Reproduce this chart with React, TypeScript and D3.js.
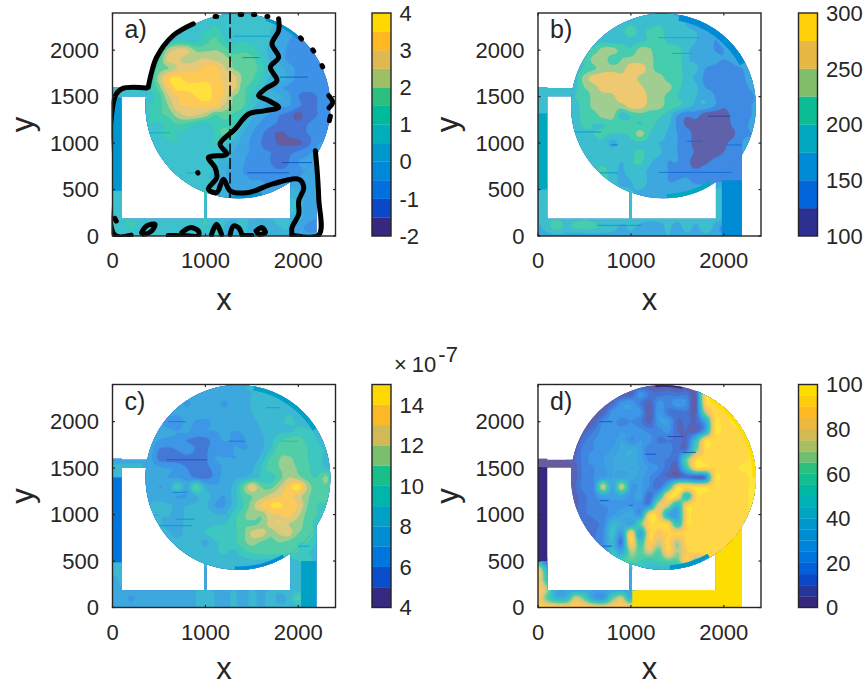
import React, { useMemo } from "react";
import * as d3 from "d3";

// ---------- data: field values (rows from y=2400 down to y=0, step 100) ----------
const gridA = [
[.6,.6,.6,.6,.6,.6,.6,.6,.7,.7,.7,.7,.7,.6,.6,.6,.6,.6,-.2,-.3,-.3,-.3,-.3,-.3,-.3],
[.6,.6,.6,.6,.6,.6,.6,.7,.7,.8,.8,.9,.8,.7,.8,.7,.7,.7,0,-.4,-.5,-.5,-.6,-.6,-.6],
[.6,.6,.6,.6,.6,.6,.7,.8,.9,.9,1.0,1.2,.9,.8,.9,.7,.7,.5,0,-.4,-.5,-.6,-.5,-.4,-.4],
[.6,.6,.6,.6,.6,.7,.9,1.1,1.0,.9,1.3,1.7,1.1,.9,1.0,.8,.7,.5,-.1,-.5,-.6,-.7,-.7,-.6,-.5],
[.6,.6,.6,.6,.6,1.0,2.2,2.7,2.6,1.9,1.9,2.0,1.8,1.2,1.4,1.2,.8,.3,-.2,-.6,-.7,-.7,-.6,-.6,-.5],
[.6,.6,.6,.6,.8,1.4,2.7,2.6,2.3,2.4,2.6,2.4,2.2,1.9,1.8,1.7,1.0,.4,-.2,-.6,-.6,-.7,-.6,-.6,-.5],
[.6,.6,.6,.7,1.0,1.7,2.0,2.6,2.9,2.9,3.2,3.3,2.6,2.0,1.8,1.7,1.3,.6,.3,-.3,-.6,-.7,-.8,-.7,-.6],
[.6,.6,.6,.7,1.0,2.2,3.4,3.6,3.3,3.2,3.3,3.2,2.9,2.8,1.9,1.6,1.0,.4,.4,-.2,-.7,-.8,-.8,-.7,-.6],
[.6,.6,.6,.7,1.0,1.8,3.0,3.7,3.6,3.7,3.8,3.3,3.0,2.8,1.7,1.3,.7,.1,-.4,-.6,-.8,-.8,-.8,-.6,-.6],
[.7,.7,.7,.8,.9,1.3,2.4,3.0,3.2,3.5,3.8,3.3,2.9,2.0,1.7,1.0,.5,.3,.1,-.4,-1.0,-1.2,-1.0,-.6,-.5],
[.7,.7,.7,.8,1.0,1.3,2.0,2.9,3.0,3.1,3.1,3.1,2.4,1.9,1.6,.7,.2,-.3,-.4,-.5,-.9,-1.2,-1.0,-.8,-.6],
[.7,.7,.7,.8,1.0,1.4,1.6,2.2,2.6,2.5,2.2,1.5,1.7,1.4,1.0,.2,-.3,-.6,-1.0,-1.2,-1.7,-1.2,-1.0,-.9,-.6],
[.7,.7,.7,.8,1.0,.9,1.2,1.5,1.3,1.0,.7,1.3,1.4,1.3,.6,-.2,-.6,-.9,-1.1,-1.2,-1.3,-1.0,-.9,-.7,-.5],
[.6,.6,.6,.7,.8,.9,1.2,1.0,.9,.9,.9,1.0,1.7,1.0,0,-.5,-.9,-1.3,-1.6,-1.4,-1.2,-1.0,-.9,-.7,-.5],
[.6,.6,.6,.6,.7,.8,.9,1.0,.8,.7,.9,1.0,.7,.3,-.2,-.6,-1.0,-1.2,-1.6,-1.6,-1.6,-1.2,-.6,-.4,-.4],
[.6,.6,.6,.6,.7,.8,.8,.7,.6,.8,.9,.6,.6,0,-.3,-.6,-.9,-1.0,-1.1,-1.1,-.9,-.6,-.4,-.3,-.3],
[.6,.6,.6,.6,.7,.7,.8,.7,.8,.8,.7,.7,.2,-.1,-.4,-.8,-.8,-1.0,-1.4,-1.0,-.5,-.4,-.3,-.3,-.3],
[.7,.7,.7,.7,.7,.7,.7,.7,.8,.8,.7,.4,.1,-.3,-.5,-.6,-.7,-.8,-.9,-.8,-.6,-.4,-.3,-.3,-.3],
[.8,.8,.8,.8,.8,.8,.8,.8,.8,.7,.6,.4,.1,-.3,-.4,-.5,-.5,-.6,-.5,-.5,-.4,-.3,-.3,-.3,-.3],
[.9,.8,.8,.8,.8,.8,.8,.8,.8,.8,1.0,.6,.1,-.2,-.3,-.3,-.4,-.3,0,.2,0,-.2,-.3,-.3,-.3],
[.9,1,.8,.8,.8,.8,.8,.8,.8,.8,1.0,.6,.3,0,0,0,.1,.2,.3,.5,.4,-.3,-.4,-.4,-.4],
[.8,.8,.8,.8,.8,.8,.8,.8,.8,.8,1.0,.8,.6,.4,.4,.4,.5,.5,.5,.6,.4,-.3,-.5,-.5,-.5],
[.7,1.0,.9,.9,.9,.8,.8,.8,.8,.8,1.0,.7,.6,.5,.5,.5,.5,.5,.6,.5,.3,-.3,-.5,-.5,-.5],
[.6,.8,1.1,.8,.6,.6,.9,.6,.5,.7,1.0,.6,.5,.4,.6,.4,.5,.4,.5,.5,-.2,-.6,-.6,-.5,-.5],
[.4,.5,.5,.5,.5,.5,.5,.5,.5,.5,.5,.5,.5,.5,.5,.5,.5,.4,.4,.3,-.3,-.4,-.4,-.4,-.4],
];
const gridB = [
[185,185,185,185,185,185,185,185,185,185,190,190,190,185,185,165,155,155,155,155,155,155,155,155,155],
[185,185,185,185,185,185,185,185,190,190,195,190,190,195,195,190,170,160,155,155,155,155,155,155,155],
[185,185,185,185,185,185,185,190,190,195,210,195,205,210,190,190,180,175,160,155,155,155,155,155,155],
[185,185,185,185,185,185,190,195,190,195,195,195,205,215,195,190,180,175,165,150,155,160,155,150,150],
[185,185,185,185,185,190,210,235,235,215,205,235,230,205,215,210,180,170,160,150,150,165,160,155,155],
[185,185,185,185,190,200,235,240,210,225,235,240,235,210,215,215,180,170,165,155,150,155,165,160,160],
[185,185,185,185,190,205,220,240,240,240,265,262,240,210,215,215,185,180,150,145,140,145,150,165,165],
[185,185,185,185,190,235,262,265,265,258,262,245,240,240,215,215,185,170,145,145,140,140,145,165,165],
[190,190,190,190,195,225,240,262,262,262,265,255,240,240,235,205,195,180,150,145,140,140,140,155,165],
[190,190,190,190,200,205,235,240,245,265,262,265,245,240,215,200,190,175,170,150,140,140,140,145,165],
[190,190,190,190,195,210,232,240,240,240,262,262,240,235,215,205,185,170,170,150,130,140,140,150,165],
[185,185,190,190,190,210,215,235,235,190,205,215,210,205,190,150,130,135,110,105,108,135,140,150,165],
[185,185,185,185,190,205,200,200,210,215,205,200,205,195,180,145,120,115,112,108,105,130,140,155,160],
[185,185,185,185,190,195,200,205,200,200,205,235,200,190,170,150,140,112,110,110,105,120,145,150,160],
[180,180,180,185,190,195,195,195,165,190,195,195,190,175,170,150,135,115,108,112,118,135,150,155,160],
[180,180,180,185,190,190,190,190,195,190,195,205,190,180,160,150,140,120,105,115,125,140,150,150,150],
[180,180,180,180,185,190,195,195,195,175,195,205,180,165,150,150,135,110,120,130,135,140,150,150,150],
[180,180,180,185,185,190,195,205,190,170,195,185,170,160,150,140,135,130,135,130,130,140,150,150,150],
[180,180,180,180,185,185,195,205,190,165,175,190,170,170,150,150,155,140,135,140,145,140,145,150,150],
[185,185,175,180,180,180,185,190,185,180,175,175,170,165,160,160,165,165,170,175,185,150,140,140,140],
[190,190,185,185,185,185,185,185,185,185,180,175,170,170,175,175,175,175,175,185,190,165,140,140,140],
[195,195,190,190,190,190,190,190,190,190,185,180,180,180,180,180,180,180,180,185,185,150,140,140,140],
[190,195,195,190,190,195,190,190,190,190,185,185,185,185,185,185,185,185,185,185,185,150,140,140,140],
[170,190,215,195,205,210,205,195,190,170,180,170,160,165,180,165,185,170,190,170,140,145,140,140,140],
[165,165,170,165,160,160,165,165,165,165,170,160,170,165,175,160,170,165,170,165,150,140,140,140,140],
];
const gridC = [
[8.2,8.2,8.2,8.2,8.2,8,8,8,8,8,8,8,8,8,8,8.2,8.5,8.5,8.5,8.5,8.5,8.5,8.5,8.5,8.5],
[8,8,8,8,8,8,8,7.8,7.9,7.8,7.8,7.8,7.8,7.8,7.8,8.0,8.1,8.3,8.4,8.5,8.5,8.5,8.5,8.5,8.5],
[8,8,8,8,8,8,7.9,7.8,6.8,7.6,7.7,7.6,6.8,7.5,7.6,8.1,8.2,8.7,8.5,8.5,8.4,8.4,8.5,8.5,8.5],
[8,8,8,8,8,7.8,7.7,7.3,7.5,7.8,7.6,7.5,7.4,7.7,7.6,8.0,8.3,8.6,8.5,8.9,8.5,8.4,8.4,8.5,8.5],
[8,8,8,8,7.9,7.6,6.5,6.4,7.3,6.9,6.8,7.2,7.1,7.1,7.4,7.8,8.2,8.8,8.8,9.2,8.8,8.4,8.4,8.5,8.5],
[8,8,8,8,7.8,7.4,7.2,7.0,7.2,6.5,6.9,7.0,7.1,7.0,7.1,7.6,8.0,8.4,8.8,8.8,9.3,9.2,8.8,8.5,8.5],
[8,8,8,8,7.7,7.0,6.8,6.7,6.0,5.8,5.7,6.5,7.1,6.9,6.9,7.3,7.8,8.6,9.8,10.4,10.5,9.6,9.0,8.6,8.5],
[8,8,8,8,7.6,6.0,5.8,6.1,6.6,5.9,5.8,6.6,6.0,7.0,7.0,7.1,7.8,9.0,10.6,10.4,10.8,10.0,9.4,8.8,8.5],
[7.8,7.8,7.8,7.8,7.4,5.8,5.5,5.5,5.5,5.5,5.8,7.0,7.2,7.0,7.1,7.4,8.4,10.2,11.0,11.2,10.5,10,9.4,8.8,8.6],
[8.2,8.2,8.2,8.2,7.6,7.2,7.0,6.8,6.0,5.6,5.8,6.3,7.2,7.3,7.2,7.8,9.2,10.6,11.0,11.6,10.8,10.2,9.5,9,8.6],
[8.2,8.2,8.2,8.0,7.6,7.4,7.0,6.9,6.6,5.8,5.7,6.3,7.4,7.7,8.0,8.6,9.2,9.4,10.6,12.0,11.4,10.4,10,11.2,8.8],
[8,8,8,8,7.6,7,7.4,9.5,7.6,10.5,8,7.2,7.6,8.2,10.5,12.8,11,10.6,12,13.5,14.4,11.8,10.2,10.8,9],
[8,8,8,8,7.8,7.4,7.2,7,7,8,8.4,7.6,7.0,8.4,10.2,11.0,11.5,12.4,13,13.4,12.5,11.2,10.4,10.8,9.2],
[8,8,8,8,8.0,8.4,8.2,7.8,8.0,8.2,8.2,7.0,6.9,8.4,9.8,11.5,13.2,14.0,14.2,13.2,13.0,11.0,10,9.6,9],
[8,8,8,8,8,8,8.1,7.6,8.2,8.6,8.8,8.2,8.0,9.4,10.6,11.6,11.2,12.8,13,13.4,12.2,10.6,10,9.4,8.8],
[8,8,8,8,8,8.2,7.5,7.4,8.4,8.8,8.6,8.8,9.0,9.6,10.8,10.8,11.2,12.4,13,12,11.4,10.5,9.6,8.8,8.6],
[8,8,8,8,8,8.2,8.2,7.5,8.6,8.8,9.0,9.8,9.8,9.8,10.6,12.2,12.5,11.4,12.2,12.4,11,10.8,9.6,8.8,8.6],
[8,8,8,8,8,8.2,8.3,8.5,8.6,8.6,7.7,8.8,9.4,9.6,10.6,11.4,10.8,10.6,11.0,10.6,10.0,10,9,8.6,8.6],
[8,8,8,8,8,8,8.2,8.4,8.6,8.8,8.6,8.8,9.2,8.8,9.6,10.2,10.4,10.4,10.4,10.2,10,9.2,8.6,8.6,8.6],
[8,8,8,8,8,8.2,8.2,8.2,8.4,8.4,8.5,8.6,8.5,8.4,8.6,8.8,8.8,8.6,8.6,8.6,9,9.4,8.5,8.5,8.5],
[8.6,8.2,8,8,8,8,8,8,8,8,7.8,8.3,8.2,8.2,8.2,8.2,8.2,8.2,8.2,8.4,8.6,8.8,8.5,8.5,8.5],
[7.4,8.4,8,8,8,8,8,8,8,8,7.8,8.2,8.2,8.2,8.2,8.2,8.2,8.2,8.2,8.4,8.6,8.2,8.5,8.5,8.5],
[7.4,7.8,8,8,8,8,8,8,8,8,8,8,8,8,8,8,8,8,8.2,8.4,8.4,8.2,8.5,8.5,8.5],
[7.8,7.5,6.8,7.5,7.6,7.7,7.0,7.6,7.8,8,8.2,8.0,7.5,8.2,7.6,8.2,7.8,8.3,7.8,8.3,10.2,8.6,8.5,8.5,8.5],
[7.8,7.6,7.8,7.7,7.8,7.7,7.8,7.8,7.9,8,8,8,8,8,8,8,8,8,8.1,8.2,8.5,8.5,8.5,8.5,8.5],
];
const gridD = [
[5,5,5,5,5,5,5,5,5,5,5,5,3,3,2,2,2,4,92,96,97,97,97,97,97],
[5,5,5,5,5,5,5,5,5,5,8,22,14,12,14,12,14,8,92,93,96,97,97,97,97],
[5,5,5,5,5,5,5,5,10,22,24,15,8,22,18,24,20,6,88,93,96,97,97,97,97],
[5,5,5,5,5,5,5,8,22,24,24,22,5,25,14,12,14,8,70,92,93,96,97,97,97],
[5,5,5,5,5,5,8,20,22,18,20,16,8,24,25,10,12,10,30,91,93,96,97,97,97],
[5,5,5,5,5,8,15,22,20,24,24,22,18,18,22,10,10,8,30,92,93,93,96,97,97],
[5,5,5,5,5,14,20,22,22,30,20,25,22,14,15,14,11,45,92,92,92,92,93,96,97],
[5,5,5,5,8,18,20,22,26,32,35,28,16,18,18,12,15,60,92,91,92,92,93,96,97],
[5,5,5,5,10,18,22,25,30,34,34,28,18,16,15,14,60,91,91,91,92,93,93,96,97],
[3,3,3,3,8,18,20,24,30,32,30,30,24,20,12,10,50,91,91,92,92,93,96,96,97],
[2,2,2,2,8,18,20,26,30,30,32,28,20,14,10,10,12,8,15,91,92,93,93,96,97],
[2,2,2,2,10,18,20,75,30,75,26,26,20,12,40,91,92,92,92,92,93,93,93,96,97],
[2,2,2,2,8,14,18,30,28,32,24,28,12,40,91,91,45,91,92,92,93,93,93,96,97],
[2,2,2,2,8,14,18,20,22,24,24,22,22,80,75,40,90,92,92,92,93,93,93,96,97],
[2,2,2,2,8,14,16,18,24,30,35,24,90,85,35,30,90,92,92,92,92,92,93,96,97],
[2,2,2,2,8,10,14,18,40,35,30,60,92,92,90,45,92,92,92,92,92,93,93,96,97],
[2,2,2,2,2,8,14,20,45,25,88,30,90,85,90,90,91,92,91,92,93,93,96,97,97],
[2,2,2,2,2,10,14,20,40,15,90,50,90,75,91,70,92,91,91,92,93,96,97,97,97],
[2,2,2,2,2,2,10,20,45,30,70,60,75,60,90,70,88,91,91,93,96,97,97,97,97],
[40,10,10,10,10,10,10,30,45,55,60,55,50,55,60,60,88,60,88,97,97,97,97,97,97],
[88,40,30,30,30,30,30,30,30,30,35,48,45,45,45,40,38,40,60,98,100,100,100,100,100],
[88,50,30,30,30,30,30,30,30,30,35,60,85,95,100,100,100,100,100,100,100,100,100,100,100],
[88,70,30,30,30,30,30,30,30,30,35,98,100,100,100,100,100,100,100,100,100,100,100,100,100],
[90,60,40,40,75,60,30,25,60,75,40,100,100,100,100,100,100,100,100,100,100,100,100,100,100],
[92,92,90,90,90,90,88,85,88,90,90,100,100,100,100,100,100,100,100,100,100,100,100,100,100],
];

const levelsA = d3.range(-2, 4.01, 0.5);
const levelsB = d3.range(100, 300.1, 25);
const levelsC = d3.range(4, 15.01, 1);
const levelsD = d3.range(0, 100.1, 5);

const ticksA = [-2, -1, 0, 1, 2, 3, 4];
const ticksB = [100, 150, 200, 250, 300];
const ticksC = [4, 6, 8, 10, 12, 14];
const ticksD = [0, 20, 40, 60, 80, 100];
const axisXTicks = [0, 1000, 2000];
const axisYTicks = [0, 500, 1000, 1500, 2000];

const paletteStops = ["#37287f", "#0a48c8", "#0070e0", "#0088d8", "#0098cc", "#00aebc", "#00bb9b", "#2cc080", "#9dbf66", "#e0b850", "#ffb820", "#ffd800", "#fce600"];

// domain: disc + channels, in data units
const disc = { cx: 1350, cy: 1400, r: 995 };
const channels = [
  [0, 0, 100, 1600],
  [0, 1505, 450, 1590],
  [0, 0, 2195, 185],
  [1915, 0, 2195, 890],
  [985, 180, 1012, 520],
];

// patches drawn without the pale wash: [x0,y0,x1,y1,value]
const solidRectsA = [[0, 485, 100, 1490, 0.4]];
const solidRectsB = [[0, 500, 100, 1320, 180], [1978, 0, 2195, 600, 155]];
const solidRectsC = [[0, 485, 100, 1400, 6.9], [2030, 0, 2195, 500, 8.5]];
const solidRectsD = [[0, 500, 100, 1510, 2], [1915, 0, 2195, 900, 100], [1015, 0, 1915, 185, 100]];
// rim arcs: [deg0, deg1, inner radius, value]
const solidArcsA = [[18, 42, 965, 0], [165, 186, 960, 0]];
const solidArcsB = [[10, 62, 930, 155], [149, 178, 950, 180]];
const solidArcsC = [[10, 58, 950, 8.5], [150, 182, 960, 7.4]];
const solidArcsD = [[-5, 12, 975, 2], [150, 176, 950, 38], [30, 90, 960, 100]];

// thin streaks: [x0,x1,y,value]
const streaksA = [[1300, 1700, 2150, 0.2], [1400, 1580, 1920, -0.6], [1800, 2100, 1710, -1.1], [1820, 2150, 790, -1.4], [1450, 1900, 680, -1.3], [400, 620, 1110, 0.8], [800, 900, 680, 0.9]];
const streaksB = [[1295, 1730, 2135, 175], [1440, 1660, 1965, 175], [1830, 2070, 1290, 100], [1600, 1770, 1020, 135], [2030, 2195, 980, 135], [1300, 2090, 685, 130], [400, 680, 1120, 165], [630, 860, 680, 170], [630, 1120, 115, 165], [790, 860, 980, 140]];
const streaksC = [[600, 790, 2000, 6], [1250, 1420, 1790, 6.2], [580, 1020, 1590, 5.5], [650, 800, 1240, 6], [1820, 2000, 1790, 10], [1650, 1800, 2150, 8], [680, 880, 950, 7], [500, 850, 880, 7], [2000, 2130, 660, 8]];
const streaksD = [[660, 800, 2000, 12], [1400, 1560, 1840, 8], [1150, 1270, 1650, 12], [1560, 1700, 1670, 3], [660, 760, 1150, 12], [690, 800, 660, 10], [980, 1020, 1100, 15]];

// black contour of panel a, data units
const blackLines = [
  [[1788,2338],[1788,2212],[1716,2068],[1788,1924],[1698,1817],[1770,1673],[1644,1583],[1572,1511],[1680,1457],[1788,1385],[1644,1349],[1464,1313],[1320,1151],[1158,989],[1230,881],[1032,845],[1104,737],[1122,629],[1032,504],[1122,468],[1194,611],[1266,486],[1464,468],[1716,558],[2004,611],[2058,522],[2004,378],[2004,234],[1932,90],[1932,0]],
  [[2183,917],[2200,737],[2220,400],[2220,10],[1932,10]],
  [[870,2284],[655,2158],[475,1924],[421,1763],[385,1601]],
  [[367,1594],[97,1583],[25,1493],[25,10],[200,10]],
  [[313,36],[367,108],[457,126],[421,54],[331,18],[313,36]],
  [[745,36],[835,90],[925,54],[925,5],[745,10]],
  [[1065,15],[1120,126],[1174,15]],
  [[1266,15],[1302,108],[1356,90],[1392,15]],
  [[1545,54],[1610,90],[1645,36],[1575,18],[1545,54]],
  [[600,6],[700,6]],[[1400,6],[1500,6]],
  [[1104,2363],[1120,2363]],[[1374,2385],[1390,2385]],[[1518,2385],[1530,2385]],[[1662,2363],[1672,2363]],
  [[2022,2133],[2035,2120]],[[2155,2004],[2165,1990]],[[2255,1835],[2262,1820]],
  [[2327,1511],[2370,1440],[2330,1380]],[[2345,1290],[2334,1240],[2340,1270]],
  [[917,683],[920,678]],[[25,190],[40,160]],
];
const dashLine = [[1265, 2400], [1265, 410]];

const ink = "#262626";
const W = 223;
const H = 223;

const rampDomain = [...d3.range(12).map((i) => (i + 0.5) / 12), 1];
const ramp = d3.scaleLinear<string>().domain(rampDomain).range(paletteStops).interpolate(d3.interpolateRgb).clamp(true);

function upsample(grid: number[][], n: number): number[] {
  const rows = grid.length, cols = grid[0].length;
  const vMin = d3.min(grid.flat()) as number, vMax = d3.max(grid.flat()) as number;
  const cr = (a: number, b: number, c: number, d: number, t: number) =>
    0.5 * (2 * b + (c - a) * t + (2 * a - 5 * b + 4 * c - d) * t * t + (3 * b - a - 3 * c + d) * t * t * t);
  const out = new Array(n * n);
  const at = (r: number, c: number) => grid[Math.max(0, Math.min(rows - 1, r))][Math.max(0, Math.min(cols - 1, c))];
  for (let j = 0; j < n; j++) {
    const fy = (j / (n - 1)) * (rows - 1), r0 = Math.floor(fy), ty = fy - r0;
    for (let i = 0; i < n; i++) {
      const fx = (i / (n - 1)) * (cols - 1), c0 = Math.floor(fx), tx = fx - c0;
      const seg = [-1, 0, 1, 2].map((dr) => cr(at(r0 + dr, c0 - 1), at(r0 + dr, c0), at(r0 + dr, c0 + 1), at(r0 + dr, c0 + 2), tx));
      out[j * n + i] = Math.max(vMin, Math.min(vMax, cr(seg[0], seg[1], seg[2], seg[3], ty)));
    }
  }
  return out;
}

type PanelProps = {
  id: string; label: string; left: number; top: number; barLeft: number; xLabelGap: number;
  grid: number[][]; levels: number[]; ticks: number[];
  rects: number[][]; arcs: number[][]; streaks: number[][]; wash: number; black?: boolean; exponent?: boolean;
};

function Panel(p: PanelProps) {
  const x = d3.scaleLinear().domain([0, 2400]).range([p.left, p.left + W]);
  const y = d3.scaleLinear().domain([0, 2400]).range([p.top + H, p.top]);
  const lo = p.levels[0], hi = p.levels[p.levels.length - 1];
  const nLev = p.levels.length - 1;
  const levelIndex = (v: number) => Math.max(0, Math.min(nLev - 1, Math.floor((v - lo) / (hi - lo) * nLev)));
  const solid = (i: number) => ramp((i + 0.5) / nLev);
  const pale = (i: number) => d3.interpolateRgb(solid(i), "#ffffff")(p.wash);
  const N = 241;
  const paths = useMemo(() => {
    const vals = upsample(p.grid, N);
    const cs = d3.contours().size([N, N]).smooth(true).thresholds(p.levels.slice(0, -1))(vals);
    const proj = d3.geoTransform({
      point(px: number, py: number) {
        (this as any).stream.point(x(((px - 0.5) / (N - 1)) * 2400), y(2400 - ((py - 0.5) / (N - 1)) * 2400));
      },
    });
    const gp = d3.geoPath(proj);
    return cs.map((c, i) => ({ d: gp(c as any) || "", i }));
  }, []);
  const scaleK = W / 2400;
  const bar = d3.scaleLinear().domain([lo, hi]).range([p.top + H, p.top]);
  const line = d3.line().x((d) => x(d[0])).y((d) => y(d[1])).curve(d3.curveCatmullRom);
  const arcGen = d3.arc();
  const tickLen = 2.5;
  const washed = paths.map((c) => <path key={c.i} d={c.d} fill={pale(c.i)} stroke={pale(c.i)} strokeWidth={0.3} />);
  return (
    <g>
      <defs>
        <clipPath id={`dom-${p.id}`}>
          <circle cx={x(disc.cx)} cy={y(disc.cy)} r={disc.r * scaleK} />
          {channels.map((c, i) => (
            <rect key={i} x={x(c[0])} y={y(c[3])} width={x(c[2]) - x(c[0])} height={y(c[1]) - y(c[3])} />
          ))}
        </clipPath>
        <clipPath id={`disc-${p.id}`}>
          <circle cx={x(disc.cx)} cy={y(disc.cy)} r={disc.r * scaleK} />
        </clipPath>
        <clipPath id={`box-${p.id}`}>
          <rect x={p.left - 1} y={p.top - 1} width={W + 2} height={H + 2} />
        </clipPath>
      </defs>
      <g clipPath={`url(#dom-${p.id})`}>
        {washed}
        {p.rects.map((r, i) => (
          <rect key={i} x={x(r[0])} y={y(r[3])} width={x(r[2]) - x(r[0])} height={y(r[1]) - y(r[3])} fill={solid(levelIndex(r[4]))} />
        ))}
        <g clipPath={`url(#disc-${p.id})`}>{washed}</g>
        {p.arcs.map((a, i) => (
          <path key={i} transform={`translate(${x(disc.cx)},${y(disc.cy)})`} fill={solid(levelIndex(a[3]))}
            d={arcGen({ innerRadius: a[2] * scaleK, outerRadius: (disc.r + 10) * scaleK, startAngle: (a[0] * Math.PI) / 180, endAngle: (a[1] * Math.PI) / 180 } as any) || ""} />
        ))}
        {p.streaks.map((s, i) => (
          <line key={i} x1={x(s[0])} x2={x(s[1])} y1={y(s[2])} y2={y(s[2])} stroke={solid(levelIndex(s[3]))} strokeOpacity={0.75} strokeWidth={1} />
        ))}
      </g>
      {p.black && (
        <g clipPath={`url(#box-${p.id})`} fill="none" stroke="#000" strokeLinecap="round" strokeLinejoin="round">
          {blackLines.map((l, i) => <path key={i} d={line(l as any) || ""} strokeWidth={5} />)}
          <line x1={x(dashLine[0][0])} x2={x(dashLine[1][0])} y1={y(dashLine[0][1])} y2={y(dashLine[1][1])} strokeWidth={1.5} strokeDasharray="11 3.5" strokeLinecap="butt" />
        </g>
      )}
      <rect x={p.left} y={p.top} width={W} height={H} fill="none" stroke={ink} strokeWidth={1.4} />
      {axisXTicks.map((t) => (
        <g key={t}>
          <line x1={x(t)} x2={x(t)} y1={p.top + H} y2={p.top + H - tickLen} stroke={ink} strokeWidth={1.2} />
          <line x1={x(t)} x2={x(t)} y1={p.top} y2={p.top + tickLen} stroke={ink} strokeWidth={1.2} />
          <text x={x(t)} y={p.top + H + 32} textAnchor="middle" fontSize={22} fill={ink}>{t}</text>
        </g>
      ))}
      {axisYTicks.map((t) => (
        <g key={t}>
          <line x1={p.left} x2={p.left + tickLen} y1={y(t)} y2={y(t)} stroke={ink} strokeWidth={1.2} />
          <line x1={p.left + W} x2={p.left + W - tickLen} y1={y(t)} y2={y(t)} stroke={ink} strokeWidth={1.2} />
          <text x={p.left - 13.5} y={y(t) + 7.8} textAnchor="end" fontSize={22} fill={ink}>{t}</text>
        </g>
      ))}
      <text x={p.left + W / 2} y={p.top + H + p.xLabelGap} textAnchor="middle" fontSize={31} fill={ink}>x</text>
      <text transform={`translate(${p.left - 80},${p.top + H / 2}) rotate(-90)`} textAnchor="middle" fontSize={31} fill={ink}>y</text>
      <text x={p.left + 12} y={p.top + 25} fontSize={25} fill={ink}>{p.label}</text>
      {d3.range(nLev).map((i) => (
        <rect key={i} x={p.barLeft} width={19} y={bar(p.levels[i + 1])} height={bar(p.levels[i]) - bar(p.levels[i + 1])} fill={solid(i)} stroke={solid(i)} strokeWidth={0.2} />
      ))}
      <rect x={p.barLeft} y={p.top} width={19} height={H} fill="none" stroke={ink} strokeWidth={1.4} />
      {p.ticks.map((t) => (
        <text key={t} x={p.barLeft + 27.5} y={bar(t) + 7.8} fontSize={22} fill={ink}>{t}</text>
      ))}
      {p.exponent && (
        <text x={p.barLeft + 22} y={p.top - 12.5} fontSize={22} fill={ink}>×<tspan dx={5}>10</tspan><tspan dx={2} dy={-10}>-7</tspan></text>
      )}
    </g>
  );
}

export default function App() {
  return (
    <svg width={867} height={685} viewBox="0 0 867 685" style={{ position: "absolute", left: 0, top: 0, display: "block", background: "#fff" }} fontFamily="'Liberation Sans', Arial, sans-serif">
      <Panel id="a" label="a)" left={112.5} top={13} barLeft={372} xLabelGap={74} grid={gridA} levels={levelsA} ticks={ticksA} rects={solidRectsA} arcs={solidArcsA} streaks={streaksA} wash={0.24} black />
      <Panel id="b" label="b)" left={538} top={13} barLeft={798.5} xLabelGap={74} grid={gridB} levels={levelsB} ticks={ticksB} rects={solidRectsB} arcs={solidArcsB} streaks={streaksB} wash={0.24} />
      <Panel id="c" label="c)" left={112.5} top={384.5} barLeft={372} xLabelGap={71.5} grid={gridC} levels={levelsC} ticks={ticksC} rects={solidRectsC} arcs={solidArcsC} streaks={streaksC} wash={0.24} exponent />
      <Panel id="d" label="d)" left={538} top={384.5} barLeft={798.5} xLabelGap={71.5} grid={gridD} levels={levelsD} ticks={ticksD} rects={solidRectsD} arcs={solidArcsD} streaks={streaksD} wash={0.24} />
    </svg>
  );
}
